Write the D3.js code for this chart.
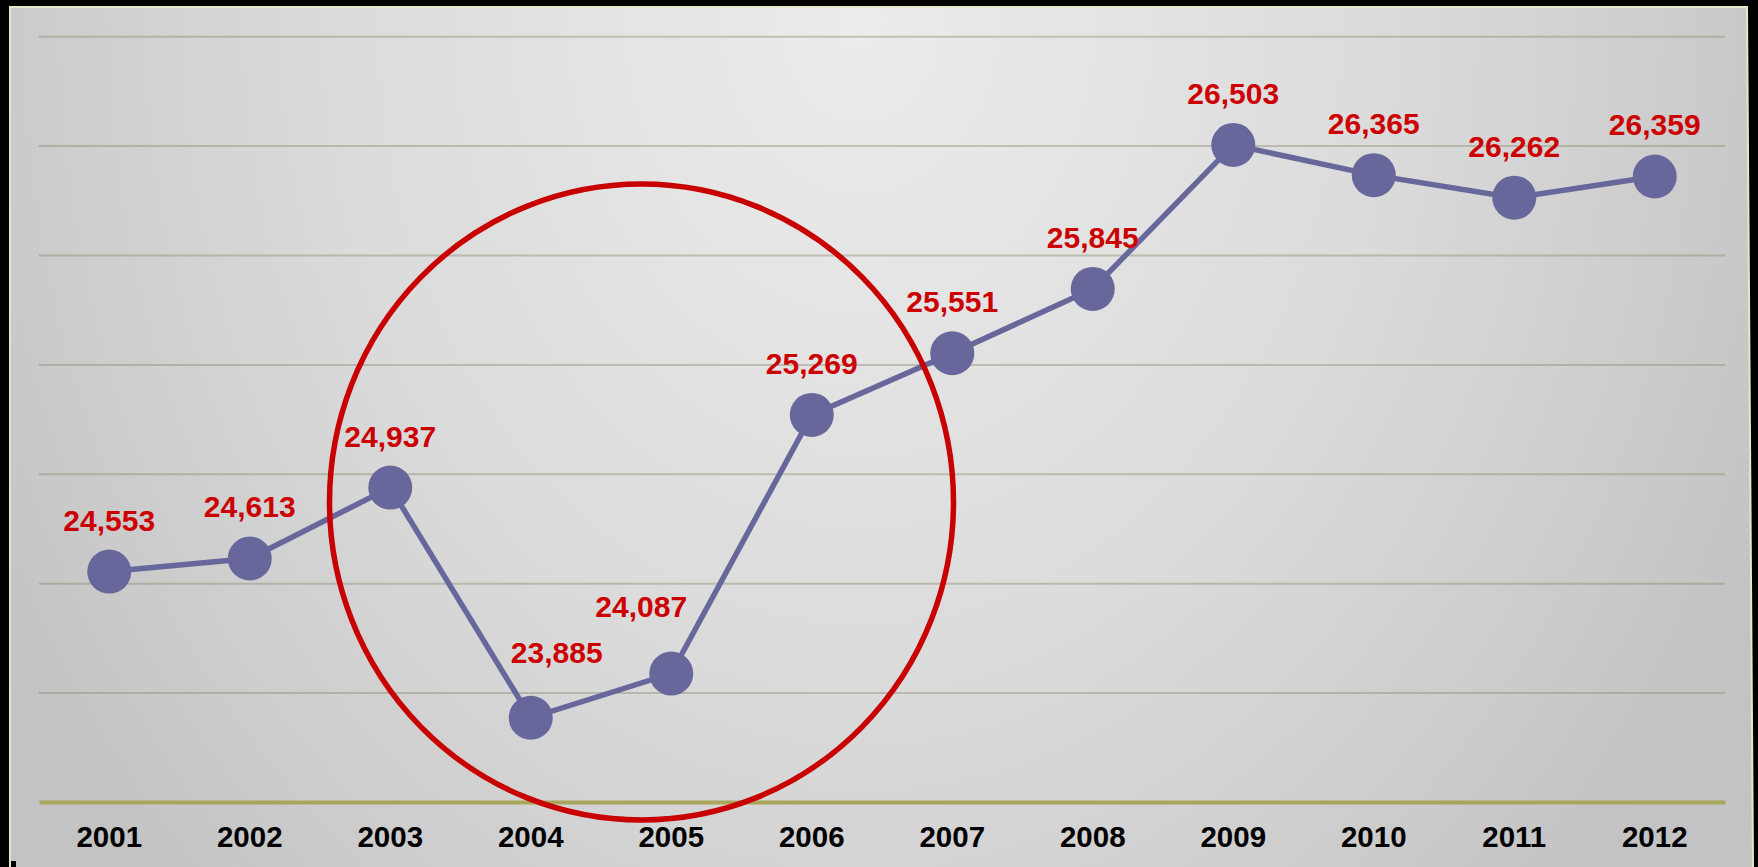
<!DOCTYPE html>
<html>
<head>
<meta charset="utf-8">
<script src="https://cdn.jsdelivr.net/npm/d3@7"></script>
<style>
  html, body { margin: 0; padding: 0; background: #000; }
  svg { display: block; }
  text { font-family: "Liberation Sans", Arial, Helvetica, sans-serif; font-weight: bold; }
</style>
</head>
<body>
<svg id="chart" width="1758" height="867"></svg>
<script>
// ---- data ----
const years  = ["2001","2002","2003","2004","2005","2006","2007","2008","2009","2010","2011","2012"];
const values = [24553, 24613, 24937, 23885, 24087, 25269, 25551, 25845, 26503, 26365, 26262, 26359];
const yTicks = [24000, 24500, 25000, 25500, 26000, 26500, 27000];
const yDomain = [23500, 27000];

// ---- layout ----
const W = 1758, H = 867;
const plot = { left: 39, right: 1725, top: 36.2, bottom: 802 };
const labelNudge = { "2004": { dx: 26, dy: -54.5 }, "2005": { dx: -30, dy: -57 } };
const defaultLabelDy = -41;

const svg = d3.select("#chart");

// background gradient (radial, brightest near top centre)
const defs = svg.append("defs");
const grad = defs.append("radialGradient")
  .attr("id", "bg")
  .attr("gradientUnits", "userSpaceOnUse")
  .attr("cx", 0).attr("cy", 0).attr("r", 1)
  .attr("gradientTransform", "translate(860,20) scale(1000,1250)");
grad.append("stop").attr("offset", "0").attr("stop-color", "#ececec");
grad.append("stop").attr("offset", "0.55").attr("stop-color", "#dadada");
grad.append("stop").attr("offset", "1").attr("stop-color", "#c3c3c3");

svg.append("rect").attr("width", W).attr("height", H).attr("fill", "#000");
svg.append("polygon")
  .attr("points", "9,6 1748,6 1754,867 9,867")
  .attr("fill", "#e6e6c4");
svg.append("polygon")
  .attr("points", "11,8 1746,8 1752,867 11,867")
  .attr("fill", "url(#bg)");
svg.append("rect").attr("x", 11).attr("y", 861).attr("width", 5).attr("height", 6).attr("fill", "#000");

// scales
const x = d3.scaleBand().domain(years).range([plot.left, plot.right]).paddingInner(0).paddingOuter(0);
const cx = d => x(d) + x.bandwidth() / 2;
const y = d3.scaleLinear().domain(yDomain).range([plot.bottom, plot.top]);

// gridlines
const grid = svg.append("g")
  .attr("transform", `translate(${plot.left},0)`)
  .call(d3.axisLeft(y).tickValues(yTicks).tickSize(-(plot.right - plot.left)).tickFormat(""));
grid.select(".domain").remove();
grid.selectAll(".tick line").attr("stroke", "rgba(130,130,100,0.38)").attr("stroke-width", 2);

// x axis
const xAxis = svg.append("g")
  .attr("transform", `translate(0,${plot.bottom})`)
  .call(d3.axisBottom(x).tickSize(0).tickSizeOuter(0));
xAxis.select(".domain").attr("stroke", "#a7a65a").attr("stroke-width", 4);
xAxis.selectAll(".tick text")
  .attr("y", 45).attr("dy", 0)
  .attr("fill", "#000")
  .style("font-size", "29.5px")
  .style("font-family", "'Liberation Sans', Arial, sans-serif")
  .style("font-weight", "bold");

// line
const data = years.map((yr, i) => ({ year: yr, value: values[i] }));
svg.append("path")
  .datum(data)
  .attr("fill", "none")
  .attr("stroke", "#67679b")
  .attr("stroke-width", 5.5)
  .attr("d", d3.line().x(d => cx(d.year)).y(d => y(d.value)));

svg.selectAll("circle.pt")
  .data(data).join("circle")
  .attr("class", "pt")
  .attr("cx", d => cx(d.year))
  .attr("cy", d => y(d.value))
  .attr("r", 22)
  .attr("fill", "#67679b");

// value labels
const fmt = d3.format(",");
svg.selectAll("text.val")
  .data(data).join("text")
  .attr("class", "val")
  .attr("x", d => cx(d.year) + (labelNudge[d.year] ? labelNudge[d.year].dx : 0))
  .attr("y", d => y(d.value) + (labelNudge[d.year] ? labelNudge[d.year].dy : defaultLabelDy))
  .attr("text-anchor", "middle")
  .attr("fill", "#cc0000")
  .style("font-size", "30px")
  .text(d => fmt(d.value));

// red highlight ellipse
svg.append("ellipse")
  .attr("cx", 641.5).attr("cy", 502).attr("rx", 312).attr("ry", 318)
  .attr("fill", "none")
  .attr("stroke", "#c80000")
  .attr("stroke-width", 5.5);
</script>
</body>
</html>
